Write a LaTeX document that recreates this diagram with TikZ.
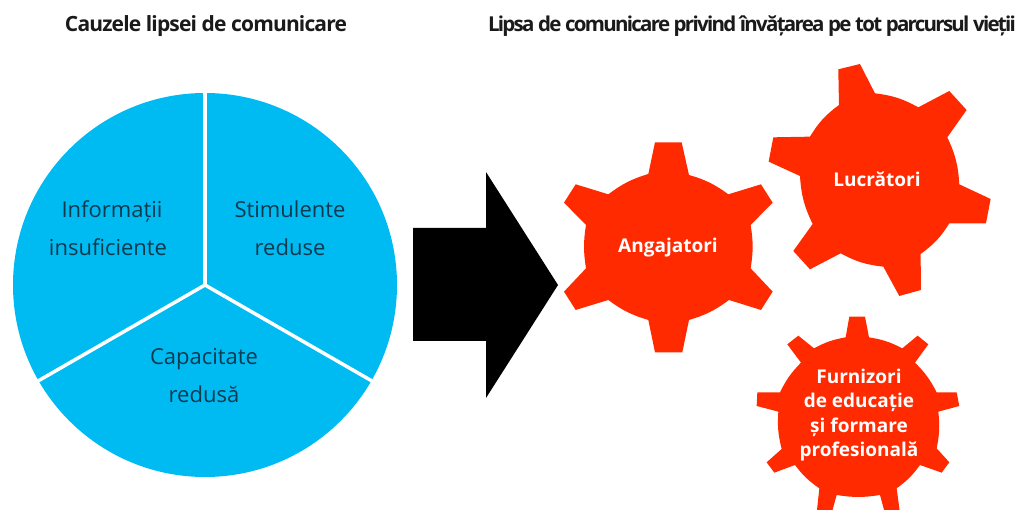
\documentclass[tikz,border=0pt]{standalone}
\usepackage{fontspec}
\setmainfont{Open Sans}
\newfontfamily\titlefont[LetterSpace=-4]{Open Sans}
\newfontfamily\titlefonttight[LetterSpace=-8.4]{Open Sans}
\definecolor{piecol}{HTML}{00BBF2}
\definecolor{gearcol}{HTML}{FF2A00}
\definecolor{inkcol}{HTML}{1A1A1A}
\definecolor{pieink}{HTML}{0E3A50}
\tikzset{
 gear/.style={fill=gearcol,draw=none},
 gearlabel/.style={text=white,font=\bfseries\fontsize{19}{24.3}\selectfont,align=center,inner sep=0pt},
 pielabel/.style={text=pieink,font=\fontsize{22}{38}\selectfont,align=center,inner sep=0pt},
 titlelabel/.style={text=inkcol,inner sep=0pt},
 divider/.style={draw=white,line width=3.5pt}
}
\begin{document}
\begin{tikzpicture}[x=1pt,y=-1pt]
\useasboundingbox (0,0) rectangle (1018,510);
\begin{scope}
\clip (0,0) rectangle (1018,510);
\fill[piecol] (205,285) circle[radius=192];
\coordinate (pc) at (205,285);
\coordinate (d1) at (205,92);
\coordinate (d2) at (38,381);
\coordinate (d3) at (372,381);
\draw[divider] (pc) -- (d1);
\draw[divider] (pc) -- (d2);
\draw[divider] (pc) -- (d3);
\fill[black] (413,228) -- (486,228) -- (486,172) -- (558,285) -- (486,398) -- (486,341) -- (413,341) -- cycle;
% Angajatori
\begin{scope}[shift={(540,50)},x=0.3333pt,y=-0.3333pt]
\path[gear] (345,277) -- (425,277) -- (447,375) to[bend left=10] (565,433) -- (663,403) -- (698,458) -- (632,525) to[bend left=9] (632,655) -- (698,725) -- (663,780) -- (567,750) to[bend left=10] (447,810) -- (427,907) -- (345,907) -- (325,810) to[bend left=10] (205,750) -- (107,780) -- (72,725) -- (138,655) to[bend left=9] (138,525) -- (72,458) -- (107,403) -- (205,433) to[bend left=10] (325,372) -- cycle;
% Lucratori
\path[gear] (895,58) -- (960,42) -- (1005,130) to[bend left=11] (1135,172) -- (1228,123) -- (1280,180) -- (1222,262) to[bend left=11] (1258,403) -- (1352,447) -- (1338,520) -- (1228,520) to[bend left=11] (1142,612) -- (1143,720) -- (1078,738) -- (1030,650) to[bend left=11] (902,610) -- (810,658) -- (760,603) -- (818,522) to[bend left=11] (780,378) -- (686,335) -- (700,262) -- (810,260) to[bend left=11] (897,165) -- cycle;
\end{scope}
% Furnizori
\begin{scope}[shift={(740,300)},x=0.3333pt,y=-0.3333pt]
\path[gear] (328,50) -- (375,50) -- (387,112) to[bend left=9] (487,145) -- (533,107) -- (565,133) -- (525,188) to[bend left=9] (590,277) -- (650,277) -- (658,318) -- (595,335) to[bend left=9] (590,445) -- (628,487) -- (605,518) -- (540,495) to[bend left=9] (470,565) -- (480,640) -- (435,640) -- (420,585) to[bend left=9] (290,585) -- (275,640) -- (230,640) -- (238,565) to[bend left=9] (165,495) -- (103,518) -- (80,487) -- (125,447) to[bend left=9] (115,335) -- (50,318) -- (52,277) -- (120,277) to[bend left=9] (183,188) -- (142,133) -- (175,107) -- (222,145) to[bend left=9] (317,112) -- cycle;
\end{scope}
\end{scope}
\node[titlelabel,font=\titlefont\bfseries\fontsize{21}{24}\selectfont] (t1) at (206,26) {Cauzele lipsei de comunicare};
\node[titlelabel,font=\titlefonttight\bfseries\fontsize{20.5}{24}\selectfont] (t2) at (752,26) {Lipsa de comunicare privind învățarea pe tot parcursul vieții};
\node[pielabel] (p1) at (108,228) {\hspace{8pt}Informații\\insuficiente};
\node[pielabel] (p2) at (290,228) {Stimulente\\reduse};
\node[pielabel] (p3) at (204,376) {Capacitate\\redusă};
\node[gearlabel] (g1) at (668,248) {Angajatori};
\node[gearlabel] (g2) at (877,179) {Lucrători};
\node[gearlabel] (g3) at (859,415) {Furnizori\\de educație\\și formare\\profesională};
\end{tikzpicture}
\end{document}
